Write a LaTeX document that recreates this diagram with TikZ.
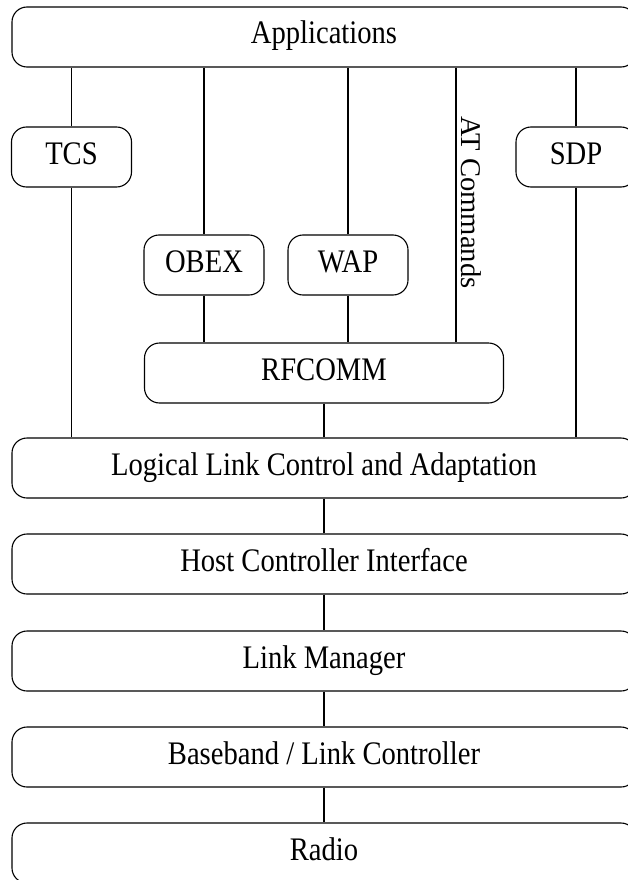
\documentclass[tikz,border=0pt]{standalone}
\usepackage{fontspec}
\setmainfont{Liberation Serif}
\usepackage{graphicx}
\usepackage{tikz}
\usetikzlibrary{calc,positioning}

% labels in the boxes are set a bit taller than wide
\newcommand{\layertext}[1]{\scalebox{1}[1.15]{#1}}

\tikzset{
    layer/.style={draw, rounded corners=15pt, minimum height=60pt, inner sep=0pt,
        text height=22pt, text depth=8pt,
        line width=1.1pt, font=\fontsize{28.6pt}{34pt}\selectfont},
    link/.style={line width=1.1pt}
}

\begin{document}
\begin{tikzpicture}[x=1pt, y=-1pt]
        \useasboundingbox (0, 0) rectangle (627, 880);

        % upper part of the stack
        \node[layer, minimum width=624pt] (apps) at (324, 37) {\layertext{Applications}};
        \node[layer, minimum width=120pt] (tcs) at (71.5, 157) {\layertext{TCS}};
        \node[layer, minimum width=120pt] (sdp) at (576, 157) {\layertext{SDP}};
        \node[layer, minimum width=120pt] (obex) at (204, 265) {\layertext{OBEX}};
        \node[layer, minimum width=120pt] (wap) at (348, 265) {\layertext{WAP}};
        \node[layer, minimum width=359pt] (rfcomm) at (324, 373) {\layertext{RFCOMM}};
        \coordinate (atline) at (456, 0);

        % lower part of the stack
        \node[layer, minimum width=624pt] (l2cap) at (324, 468) {\layertext{Logical Link Control and Adaptation}};
        \node[layer, minimum width=624pt] (hci) at (324, 564) {\layertext{Host Controller Interface}};
        \node[layer, minimum width=624pt] (lm) at (324, 661) {\layertext{Link Manager}};
        \node[layer, minimum width=624pt] (bb) at (324, 757) {\layertext{Baseband / Link Controller}};
        \node[layer, minimum width=624pt] (radio) at (324, 853) {\layertext{Radio}};

        \draw[link] (tcs) -- (tcs |- apps.south);
        \draw[link] (tcs) -- (tcs |- l2cap.north);
        \draw[link] (sdp) -- (sdp |- apps.south);
        \draw[link] (sdp) -- (sdp |- l2cap.north);
        \draw[link] (obex) -- (obex |- apps.south);
        \draw[link] (obex) -- (obex |- rfcomm.north);
        \draw[link] (wap) -- (wap |- apps.south);
        \draw[link] (wap) -- (wap |- rfcomm.north);
        \draw[link] (apps.south -| atline) -- node[rotate=-90, anchor=south, inner sep=5pt, pos=0.49,
            font=\fontsize{28.6pt}{34pt}\selectfont] {AT Commands} (rfcomm.north -| atline);
        \draw[link] (rfcomm) -- (rfcomm |- l2cap.north);

        \foreach \upper/\lower in {l2cap/hci, hci/lm, lm/bb, bb/radio}
            \draw[link] (\upper) -- (\lower);
    \end{tikzpicture}
\end{document}
